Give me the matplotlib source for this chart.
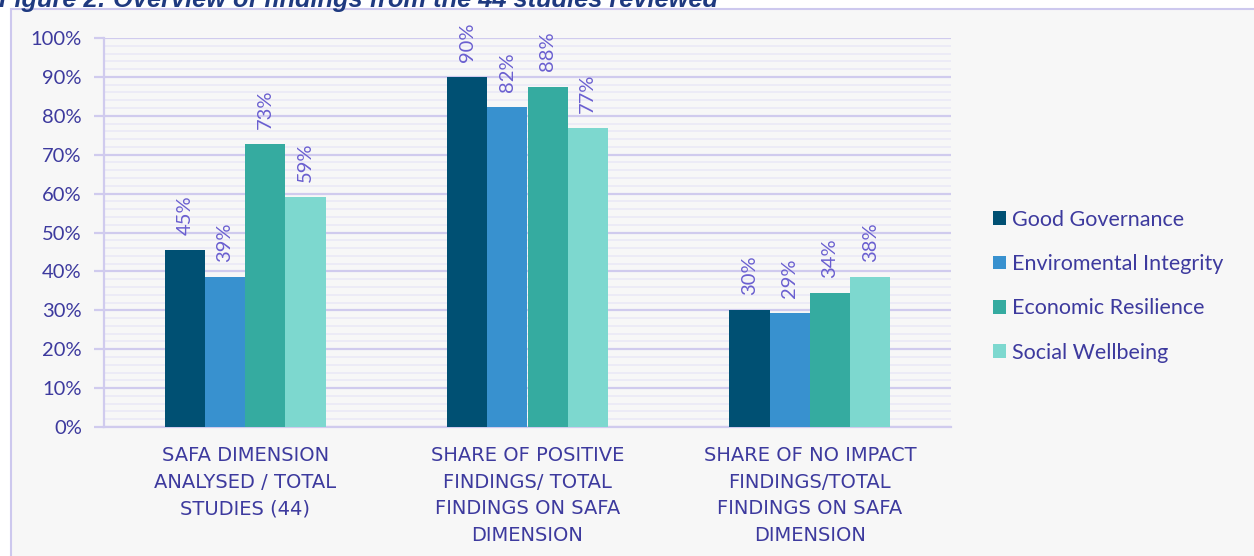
import numpy as np
import matplotlib.pyplot as plt
from matplotlib.patches import Rectangle
from matplotlib.ticker import MultipleLocator, PercentFormatter

categories = ['SAFA DIMENSION\nANALYSED / TOTAL\nSTUDIES (44)',
              'SHARE OF POSITIVE\nFINDINGS/ TOTAL\nFINDINGS ON SAFA\nDIMENSION',
              'SHARE OF NO IMPACT\nFINDINGS/TOTAL\nFINDINGS ON SAFA\nDIMENSION']
series_names = ['Good Governance', 'Enviromental Integrity', 'Economic Resilience', 'Social Wellbeing']
good_governance = [45.4, 90.0, 30.0]
enviromental_integrity = [38.6, 82.2, 29.3]
economic_resilience = [72.7, 87.5, 34.4]
social_wellbeing = [59.1, 76.9, 38.5]
values = [good_governance, enviromental_integrity, economic_resilience, social_wellbeing]
colors = ['#005073', '#3891cf', '#35aba0', '#7dd8cf']

plt.rcParams['font.family'] = ['Lato', 'DejaVu Sans']
txt_dark = '#3d3a9e'
lbl_col = '#6a5fd0'
grid_major = '#d0cbee'
grid_minor = '#ecebf6'

W, H = 1254, 556
fig = plt.figure(figsize=(W / 100, H / 100), dpi=100)
fig.patch.set_facecolor('white')

# chart frame (light grey box with lavender border at top/left)
fig.patches.append(Rectangle((11 / W, -0.1), 1.2, 1.1 - 9 / H, transform=fig.transFigure,
                             facecolor='#f7f7f7', edgecolor='#cdc8ee', linewidth=1.5, zorder=-5))

# title sits mostly above the visible area, as in the source page
fig.text(-1 / W, 1 - 7 / H, 'Figure 2: Overview of findings from the 44 studies reviewed',
         fontsize=18.3, fontweight='bold', fontstyle='italic', color='#1f3a80',
         ha='left', va='baseline', family='Liberation Sans')

ax = fig.add_axes([104 / W, 1 - 427 / H, (951 - 104) / W, (427 - 38) / H])
ax.set_facecolor('none')

x = np.arange(len(categories))
bw = 0.1425
for i, (name, vals, c) in enumerate(zip(series_names, values, colors)):
    pos = x + (i - 1.5) * bw
    bars = ax.bar(pos, vals, width=bw, color=c, label=name, zorder=3, linewidth=0)
    for b, v in zip(bars, vals):
        ax.annotate(f'{v:.0f}%', (b.get_x() + b.get_width() / 2, v), xytext=(0, 11),
                    textcoords='offset points', rotation=90, ha='center', va='bottom',
                    fontsize=14.5, color=lbl_col, zorder=4)

ax.set_xlim(-0.5, 2.5)
ax.set_ylim(0, 100)
ax.yaxis.set_major_locator(MultipleLocator(10))
ax.yaxis.set_minor_locator(MultipleLocator(2))
ax.yaxis.set_major_formatter(PercentFormatter(decimals=0))
ax.grid(axis='y', which='major', color=grid_major, linewidth=1.6, zorder=1)
ax.grid(axis='y', which='minor', color=grid_minor, linewidth=1.4, zorder=0)
ax.tick_params(axis='y', which='major', length=7, width=1.6, color=grid_major,
               labelsize=14.5, labelcolor=txt_dark, pad=9)
ax.tick_params(axis='y', which='minor', length=0)
ax.tick_params(axis='x', length=0, pad=14)
ax.set_xticks(x)
ax.set_xticklabels(categories, fontsize=14, color=txt_dark, linespacing=1.5,
                   family='DejaVu Sans')
for s in ['top', 'right']:
    ax.spines[s].set_visible(False)
for s in ['left', 'bottom']:
    ax.spines[s].set_color(grid_major)
    ax.spines[s].set_linewidth(1.6)

leg = ax.legend(loc='upper left', bbox_to_anchor=(982 / W, 1 - 199 / H),
                bbox_transform=fig.transFigure, frameon=False, fontsize=15.5,
                handlelength=0.6, handleheight=0.6, handletextpad=0.3,
                labelspacing=1.13, borderpad=0)
for t in leg.get_texts():
    t.set_color(txt_dark)

fig.savefig('out.png', dpi=100, facecolor=fig.get_facecolor())
